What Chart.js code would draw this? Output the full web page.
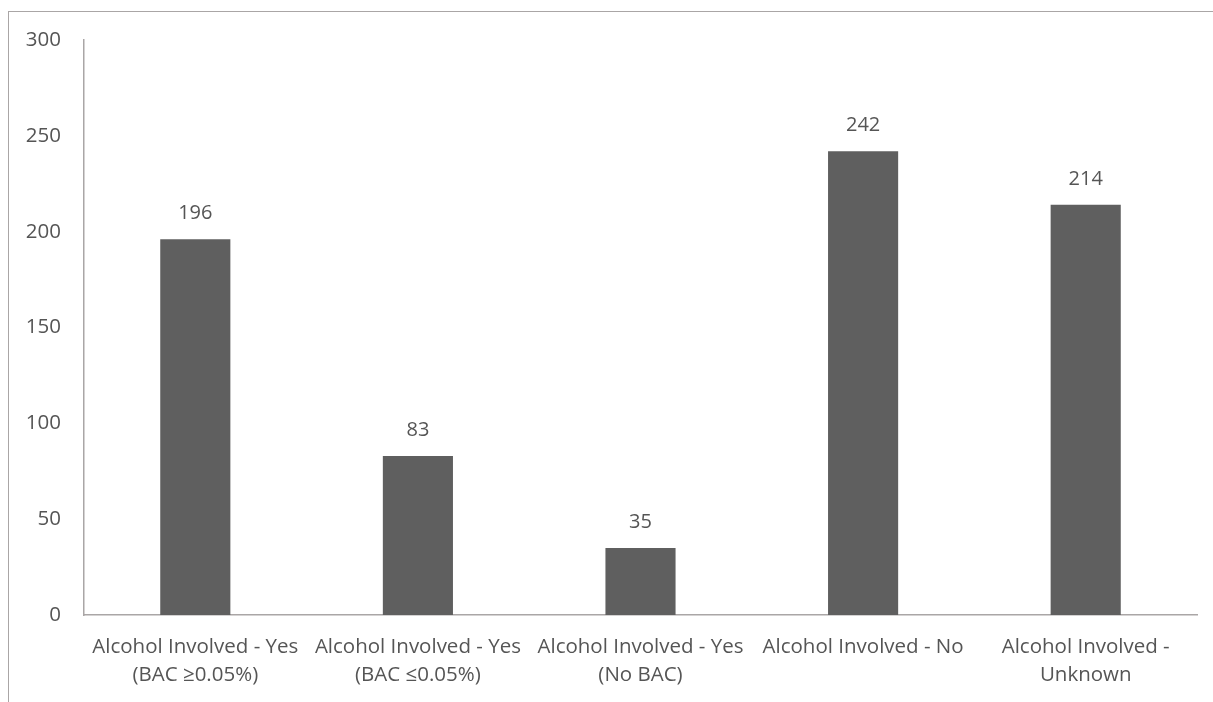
<!DOCTYPE html>
<html>
<head>
  <title>Alcohol Involved</title>
  <script src="https://cdn.jsdelivr.net/npm/chart.js"></script>
  <style>
    body { margin: 0; background: #fff; }
    #wrap { position: relative; width: 1213px; height: 702px; }
    #frame {
      position: absolute; left: 8px; top: 11px; right: 0; bottom: 0;
      border-left: 1px solid #aaa6a6; border-top: 1px solid #aaa6a6;
    }
    canvas { position: absolute; left: 0; top: 0; }
  </style>
</head>
<body>
  <div id="wrap">
    <div id="frame"></div>
    <canvas id="alcoholChart" width="1213" height="702"></canvas>
  </div>

  <script>
    var categories = [
      ["Alcohol Involved - Yes", "(BAC \u22650.05%)"],
      ["Alcohol Involved - Yes", "(BAC \u22640.05%)"],
      ["Alcohol Involved - Yes", "(No BAC)"],
      ["Alcohol Involved - No"],
      ["Alcohol Involved -", "Unknown"]
    ];
    var counts = [196, 83, 35, 242, 214];

    var textColor = "#555555";
    var fontFamily = "'Open Sans', sans-serif";

    // values above each bar
    var valueLabels = {
      id: "valueLabels",
      afterDatasetsDraw: function(chart) {
        var ctx = chart.ctx;
        var meta = chart.getDatasetMeta(0);
        ctx.save();
        ctx.fillStyle = textColor;
        ctx.font = "20px " + fontFamily;
        ctx.textAlign = "center";
        ctx.textBaseline = "middle";
        meta.data.forEach(function(bar, i) {
          ctx.fillText(counts[i], bar.x, bar.y - 26);
        });
        ctx.restore();
      }
    };

    var ctx = document.getElementById("alcoholChart").getContext("2d");
    new Chart(ctx, {
      type: "bar",
      data: {
        labels: categories,
        datasets: [{
          data: counts,
          backgroundColor: "#5f5f5f",
          categoryPercentage: 1,
          barPercentage: 0.315
        }]
      },
      options: {
        responsive: false,
        animation: false,
        layout: { padding: { top: 40, right: 16, left: 0, bottom: 0 } },
        plugins: {
          legend: { display: false },
          tooltip: { enabled: false }
        },
        scales: {
          x: {
            grid: { display: false, drawTicks: false },
            border: { display: true, color: "#aaa6a6", width: 1.5 },
            ticks: {
              color: textColor,
              font: { family: fontFamily, size: 20.5, lineHeight: 1.37 },
              padding: 18,
              maxRotation: 0,
              autoSkip: false
            },
            afterFit: function(scale) { scale.height = 87; }
          },
          y: {
            min: 0,
            max: 300,
            grid: { display: false, drawTicks: false },
            border: { display: true, color: "#aaa6a6", width: 1.5 },
            ticks: {
              stepSize: 50,
              color: textColor,
              font: { family: fontFamily, size: 20.5 },
              padding: 23
            },
            afterFit: function(scale) { scale.width = 84; }
          }
        }
      },
      plugins: [valueLabels]
    });
  </script>
</body>
</html>
